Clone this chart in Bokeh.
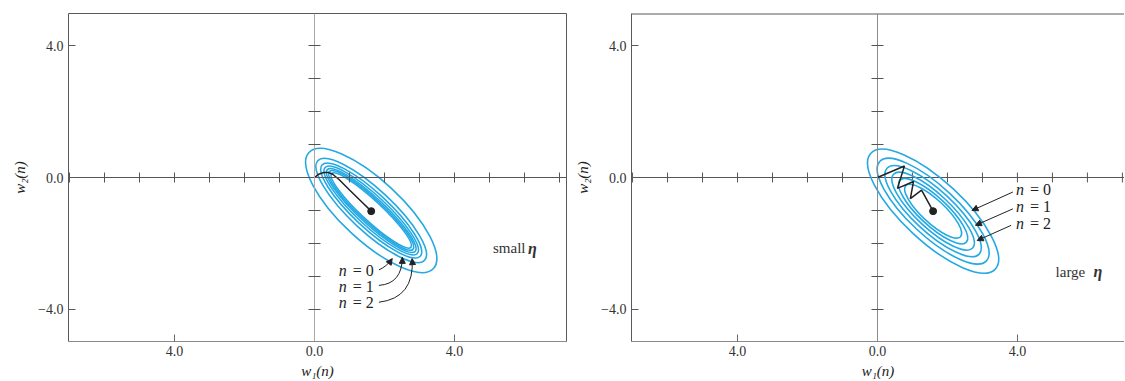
import math
from bokeh.plotting import figure
from bokeh.layouts import row
from bokeh.models import LinearAxis, FixedTicker, Arrow, NormalHead, Range1d
from bokeh.core.properties import value
from bokeh.embed import file_html
from bokeh.resources import INLINE

# ---------------- data ----------------
# contour ellipses: centre, major diameter (x units), minor diameter (y units)
center_small = (1.62, -1.0)
major_small = [4.86, 4.17, 3.83, 3.60, 3.43, 3.26, 3.09]
minor_small = [1.82, 1.27, 1.06, 0.91, 0.79, 0.70, 0.61]

center_large = (1.59, -1.02)
major_large = [4.86, 4.17, 3.60, 3.09, 2.60, 2.14]
minor_large = [1.82, 1.48, 1.24, 1.03, 0.85, 0.70]

ellipse_angle = -0.75  # radians, major axis pointing down-right

# weight trajectories w(n)
traj_small_x = [0.0, 0.12, 0.26, 0.40, 0.52, 0.70, 1.00, 1.30, 1.62]
traj_small_y = [0.0, 0.10, 0.15, 0.15, 0.10, -0.06, -0.38, -0.69, -1.02]
traj_large_x = [0.0, 0.77, 0.57, 1.03, 0.94, 1.26, 1.59]
traj_large_y = [0.0, 0.35, -0.33, -0.12, -0.64, -0.38, -1.02]

# tick labels
y_ticks = [-4, 0, 4]
y_tick_labels = ["\u22124.0", "0.0", "4.0"]
x_ticks = [-4, 0, 4]
x_tick_labels = ["4.0", "0.0", "4.0"]
minor_x_ticks = [-7, -6, -5, -4, -3, -2, -1, 1, 2, 3, 4, 5, 6, 7]
minor_y_ticks = [-4, -3, -2, -1, 1, 2, 3, 4]

# annotations
n_labels = ["= 0", "= 1", "= 2"]
small_lab_x = [0.69, 0.69, 0.69]
small_lab_y = [-2.82, -3.30, -3.79]
small_arr_x0 = [1.84, 1.84, 1.84]
small_arr_y0 = [-2.80, -3.27, -3.78]
small_arr_x1 = [2.22, 2.51, 2.79]
small_arr_y1 = [-2.46, -2.42, -2.46]
small_arr_cx = [2.06, 2.50, 2.86]
small_arr_cy = [-2.70, -3.22, -3.65]

large_lab_x = [3.96, 3.96, 3.96]
large_lab_y = [-0.36, -0.88, -1.39]
large_arr_x0 = [3.87, 3.87, 3.82]
large_arr_y0 = [-0.44, -0.95, -1.45]
large_arr_x1 = [2.70, 2.80, 2.85]
large_arr_y1 = [-1.00, -1.45, -1.91]

eta_small = ("small", 5.10, -2.15)
eta_large = ("large", 5.09, -2.85)

# ---------------- styling ----------------
SERIF = "Liberation Serif"
BLUE = "#24a9e3"
INK = "#222222"
FRAME = "#5a5a5a"
H = 381
Y_RANGE = (-4.97, 4.97)
TICK_HALF = 0.15  # half length of the origin-axis tick marks, in y units


def blank_axis(color):
    return LinearAxis(ticker=FixedTicker(ticks=[]), major_tick_in=0, major_tick_out=0,
                      minor_tick_in=0, minor_tick_out=0, axis_line_color=color,
                      major_label_text_font_size="0px")


def make_panel(width, x_range, border_left, border_right, center, majors, minors, tx, ty,
               eta, eta_gap, full_frame, vline_color):
    p = figure(width=width, height=H, x_range=Range1d(*x_range), y_range=Range1d(*Y_RANGE),
               output_backend="svg", toolbar_location=None, x_axis_location=None,
               y_axis_location=None, min_border_left=border_left, min_border_right=border_right,
               min_border_top=13, min_border_bottom=40)
    p.grid.visible = False
    p.outline_line_color = None
    p.background_fill_color = "white"

    # frame axes
    ly = LinearAxis(ticker=FixedTicker(ticks=y_ticks),
                    major_label_overrides=dict(zip(y_ticks, y_tick_labels)),
                    axis_label="w\u2082(n)", axis_label_text_font=SERIF,
                    axis_label_text_font_style="italic", axis_label_text_font_size="15px",
                    axis_label_text_color=INK, axis_label_standoff=7,
                    major_label_text_font=SERIF, major_label_text_font_size="14px",
                    major_label_text_color="#333333", major_label_standoff=5,
                    major_tick_in=7, major_tick_out=0, minor_tick_in=0, minor_tick_out=0,
                    axis_line_color=FRAME, major_tick_line_color=FRAME)
    p.add_layout(ly, "left")
    bx = LinearAxis(ticker=FixedTicker(ticks=x_ticks),
                    major_label_overrides=dict(zip(x_ticks, x_tick_labels)),
                    axis_label="w\u2081(n)", axis_label_text_font=SERIF,
                    axis_label_text_font_style="italic", axis_label_text_font_size="15px",
                    axis_label_text_color=INK, axis_label_standoff=4,
                    major_label_text_font=SERIF, major_label_text_font_size="14px",
                    major_label_text_color="#333333", major_label_standoff=4,
                    major_tick_in=7, major_tick_out=0, minor_tick_in=0, minor_tick_out=0,
                    axis_line_color="#8a8a8a", major_tick_line_color="#6a6a6a")
    p.add_layout(bx, "below")

    # vertical axis through the origin
    vy = LinearAxis(fixed_location=0, ticker=FixedTicker(ticks=minor_y_ticks),
                    major_tick_in=6, major_tick_out=6, minor_tick_in=0, minor_tick_out=0,
                    major_label_text_font_size="0px", major_label_text_alpha=0,
                    axis_line_color=vline_color, major_tick_line_color="#555555")
    p.add_layout(vy, "left")

    if full_frame:
        p.add_layout(blank_axis(FRAME), "above")
        p.add_layout(blank_axis(FRAME), "right")
        hx = LinearAxis(fixed_location=0, ticker=FixedTicker(ticks=minor_x_ticks),
                        major_tick_in=5, major_tick_out=5, minor_tick_in=0, minor_tick_out=0,
                        major_label_text_font_size="0px", major_label_text_alpha=0,
                        axis_line_color="#555555", major_tick_line_color="#555555")
        p.add_layout(hx, "below")
    else:
        # frame runs past the window on the right: top edge, horizontal axis and
        # its tick marks drawn with line glyphs
        p.line(x=list(x_range), y=[Y_RANGE[1], Y_RANGE[1]], line_color=FRAME, line_width=2)
        p.line(x=list(x_range), y=[0, 0], line_color="#555555", line_width=1)
        hticks = [t for t in minor_x_ticks if x_range[0] < t < x_range[1]]
        tick_xs, tick_ys = [], []
        for t in hticks:
            tick_xs += [t, t, float("nan")]
            tick_ys += [-TICK_HALF, TICK_HALF, float("nan")]
        p.line(x=tick_xs, y=tick_ys, line_color="#555555", line_width=1)

    # contours
    n = len(majors)
    p.ellipse(x=[center[0]] * n, y=[center[1]] * n, width=majors, height=minors,
              angle=ellipse_angle, fill_color=None, line_color=BLUE, line_width=1.6)

    # trajectory
    p.line(tx, ty, line_color=INK, line_width=1.5)
    p.scatter(x=[tx[-1]], y=[ty[-1]], size=7, color=INK)

    # eta label
    word, ex, ey = eta
    p.text(x=[ex], y=[ey], text=[word], text_font=value(SERIF), text_font_size="15px",
           text_baseline="middle", text_align="left", text_color="#333333")
    p.text(x=[ex], y=[ey], text=["\u03b7"], x_offset=eta_gap,
           text_font=value(SERIF), text_font_size="16px", text_font_style="bold italic",
           text_baseline="middle", text_align="left", text_color="#333333")
    return p


def n_text(p, lx, ly):
    p.text(x=lx, y=ly, text=["n"] * len(lx), text_font=value(SERIF), text_font_size="16px",
           text_font_style="italic", text_baseline="middle", text_align="left", text_color=INK)
    p.text(x=lx, y=ly, text=n_labels, x_offset=14, text_font=value(SERIF),
           text_font_size="16px", text_baseline="middle", text_align="left", text_color=INK)


head = dict(size=6, fill_color=INK, line_color=INK, line_width=1)

# ---------------- left panel: small eta ----------------
p1 = make_panel(571, (-7.03, 7.2), 68, 5, center_small, major_small, minor_small,
                traj_small_x, traj_small_y, eta_small, 35, True, "#aaaaaa")
n_text(p1, small_lab_x, small_lab_y)
p1.quadratic(x0=small_arr_x0, y0=small_arr_y0, x1=small_arr_x1, y1=small_arr_y1,
             cx=small_arr_cx, cy=small_arr_cy, line_color=INK, line_width=1.0)
for x1, y1, cx, cy in zip(small_arr_x1, small_arr_y1, small_arr_cx, small_arr_cy):
    p1.add_layout(Arrow(end=NormalHead(**head),
                        x_start=x1 - 0.1 * (x1 - cx), y_start=y1 - 0.1 * (y1 - cy),
                        x_end=x1, y_end=y1, line_color=INK, line_width=1))

# ---------------- right panel: large eta ----------------
p2 = make_panel(553, (-7.03, 7.06), 60, 0, center_large, major_large, minor_large,
                traj_large_x, traj_large_y, eta_large, 38, False, "#8c8c8c")
n_text(p2, large_lab_x, large_lab_y)
for x0, y0, x1, y1 in zip(large_arr_x0, large_arr_y0, large_arr_x1, large_arr_y1):
    p2.add_layout(Arrow(end=NormalHead(**head),
                        x_start=x0, y_start=y0, x_end=x1, y_end=y1,
                        line_color=INK, line_width=1))

layout = row(p1, p2)
open("out.html", "w").write(file_html(layout, INLINE))
